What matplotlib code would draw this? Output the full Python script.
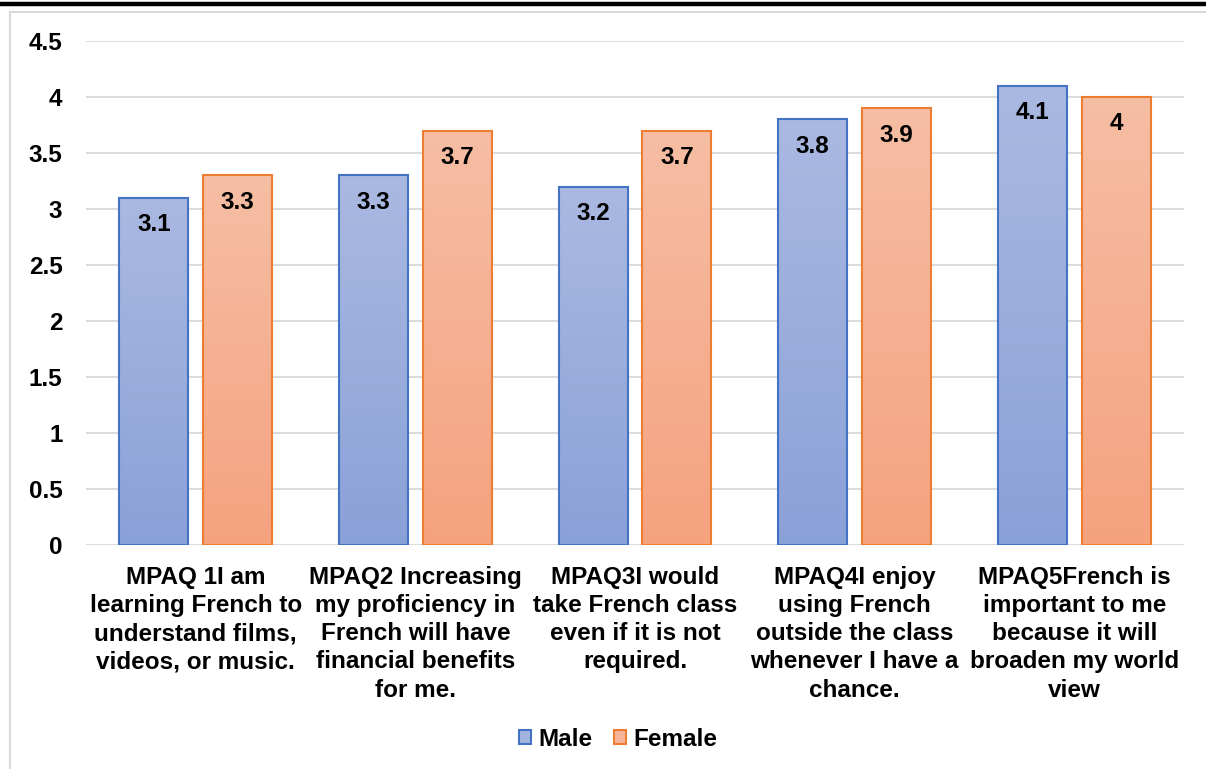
import numpy as np
import matplotlib
matplotlib.use("Agg")
import matplotlib.pyplot as plt
from matplotlib.patches import Patch
from matplotlib.colors import LinearSegmentedColormap
from matplotlib.lines import Line2D

categories = [
    "MPAQ 1I am\nlearning French to\nunderstand films,\nvideos, or music.",
    "MPAQ2 Increasing\nmy proficiency in\nFrench will have\nfinancial benefits\nfor me.",
    "MPAQ3I would\ntake French class\neven if it is not\nrequired.",
    "MPAQ4I enjoy\nusing French\noutside the class\nwhenever I have a\nchance.",
    "MPAQ5French is\nimportant to me\nbecause it will\nbroaden my world\nview",
]
male = [3.1, 3.3, 3.2, 3.8, 4.1]
female = [3.3, 3.7, 3.7, 3.9, 4.0]
yticks = [0, 0.5, 1, 1.5, 2, 2.5, 3, 3.5, 4, 4.5]
ytick_labels = ["0", "0.5", "1", "1.5", "2", "2.5", "3", "3.5", "4", "4.5"]

plt.rcParams["font.family"] = ["Liberation Sans", "DejaVu Sans"]
plt.rcParams["font.weight"] = "bold"

FS = 17.5
W, H = 1206, 769
fig = plt.figure(figsize=(W / 100, H / 100), dpi=100)
fig.patch.set_facecolor("white")

# frame lines around the chart area
fig.add_artist(Line2D([0, 1], [1 - 3.5 / H, 1 - 3.5 / H], color="black", lw=3.2,
                      transform=fig.transFigure))
fig.add_artist(Line2D([10 / W, 1], [1 - 12 / H, 1 - 12 / H], color="#D9D9D9", lw=1.5,
                      transform=fig.transFigure))
fig.add_artist(Line2D([10 / W, 10 / W], [0, 1 - 12 / H], color="#D9D9D9", lw=1.5,
                      transform=fig.transFigure))

ax = fig.add_axes([86 / W, 1 - 545 / H, (1184 - 86) / W, (545 - 41) / H])

width = 0.314
offset = 0.191
x = np.arange(len(categories))

blue_cmap = LinearSegmentedColormap.from_list("b", ["#8AA1D8", "#AAB9E1"])
orange_cmap = LinearSegmentedColormap.from_list("o", ["#F5A27F", "#F6BEA4"])

grad = np.linspace(0, 1, 256).reshape(-1, 1)


def gradient_bars(xs, vals, cmap, edge):
    bars = ax.bar(xs, vals, width, facecolor="none", edgecolor=edge, linewidth=1.5, zorder=3)
    for b, v in zip(bars, vals):
        x0 = b.get_x()
        ax.imshow(grad, cmap=cmap, origin="lower", aspect="auto",
                  extent=(x0, x0 + width, 0, v), zorder=2, interpolation="bicubic")
        ax.text(x0 + width / 2, v - 0.24, f"{v:g}", ha="center", va="center",
                fontsize=FS, fontweight="bold", color="black", zorder=4)
    return bars


gradient_bars(x - offset, male, blue_cmap, "#4472C4")
gradient_bars(x + offset, female, orange_cmap, "#ED7D31")
ax.set_xlim(-0.5, len(categories) - 0.5)
ax.set_ylim(0, 4.5)

ax.set_yticks(yticks)
ax.set_yticklabels(ytick_labels, fontsize=FS, fontweight="bold")
ax.set_xticks(x)
ax.set_xticklabels(categories, fontsize=FS, fontweight="bold", linespacing=1.29, va="top")
ax.tick_params(axis="y", length=0, pad=17)
ax.tick_params(axis="x", length=0, pad=15)
ax.grid(axis="y", color="#D9D9D9", linewidth=1.3, zorder=0)
ax.set_axisbelow(True)
for s in ax.spines.values():
    s.set_visible(False)

handles = [
    Patch(facecolor="#A3B3DF", edgecolor="#4472C4", linewidth=1.5, label="Male"),
    Patch(facecolor="#F6B59A", edgecolor="#ED7D31", linewidth=1.5, label="Female"),
]
fig.legend(handles=handles, loc="center", bbox_to_anchor=(618 / W, 1 - 739 / H), ncol=2,
           frameon=False, prop={"size": FS, "weight": "bold"}, handlelength=0.5,
           handleheight=0.5, handletextpad=0.3, columnspacing=0.9)

fig.savefig("out.png", dpi=100, facecolor="white")
